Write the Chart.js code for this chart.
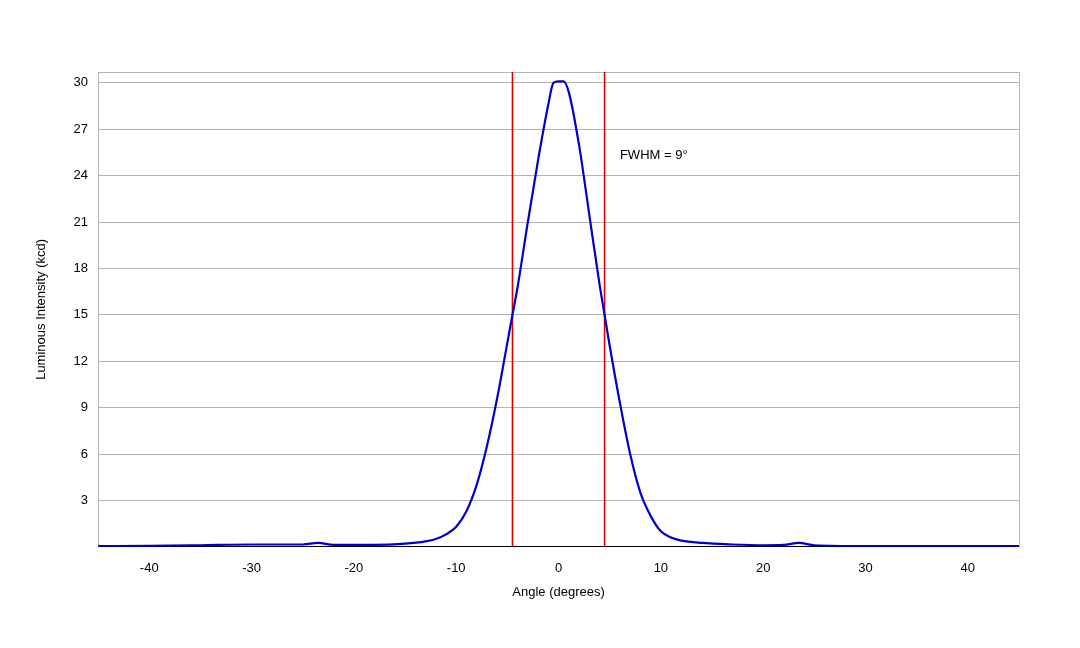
<!DOCTYPE html>
<html>
<head>
<script src="https://cdn.jsdelivr.net/npm/chart.js"></script>
<style>body{margin:0;background:#fff}</style>
</head>
<body>
<canvas id="myChart" width="1080" height="648"></canvas>
<script>
const angles = [-45,-40,-35,-30,-25,-23.5,-22,-20,-18,-15,-13,-12,-11,-10,-9,-8,-7,-6,-5,-4.5,-4,-3,-2,-1,-0.5,0,0.5,1,2,3,4,4.5,5,6,7,8,9,10,11,12,14,17,20,22,23.5,25,30,35,40,45];
const intensity = [0.05,0.06,0.1,0.15,0.15,0.25,0.12,0.12,0.12,0.2,0.35,0.5,0.8,1.3,2.3,4.0,6.5,9.6,13.2,15,16.8,21,25,28.6,30.0,30.1,30.1,29.4,26,21.5,17,15,13,9.3,6.0,3.5,2.0,1.0,0.6,0.4,0.25,0.15,0.1,0.12,0.25,0.1,0.05,0.05,0.05,0.05];
const fwhmLines = [-4.5, 4.5];
const yTicks = [3,6,9,12,15,18,21,24,27,30];
const xTicks = [-40,-30,-20,-10,0,10,20,30,40];
const yMax = 30.7;

const font = {family: 'Liberation Sans, Arial, sans-serif', size: 13};
Chart.defaults.color = '#000';

const labelPlugin = {
  id: 'fwhmLabel',
  afterDatasetsDraw(chart) {
    const ctx = chart.ctx;
    ctx.save();
    ctx.font = '13px Liberation Sans, Arial, sans-serif';
    ctx.fillStyle = '#000';
    ctx.textBaseline = 'middle';
    ctx.fillText('FWHM = 9°', chart.scales.x.getPixelForValue(6), chart.scales.y.getPixelForValue(25.3));
    ctx.restore();
  }
};

const datasets = [{
  data: angles.map((a, i) => ({x: a, y: intensity[i]})),
  borderColor: '#0000cc', borderWidth: 2.2, pointRadius: 0, cubicInterpolationMode: 'monotone'
}];
fwhmLines.forEach(v => datasets.push({
  data: [{x: v, y: 0}, {x: v, y: yMax}],
  borderColor: '#e00000', borderWidth: 1.6, pointRadius: 0
}));

new Chart(document.getElementById('myChart'), {
  type: 'line',
  data: {datasets: datasets},
  options: {
    responsive: false, animation: false, devicePixelRatio: 1,
    layout: {padding: {left: 30, right: 53, top: 64, bottom: 44}},
    plugins: {legend: {display: false}, tooltip: {enabled: false}},
    scales: {
      x: {
        type: 'linear', min: -45, max: 45,
        afterBuildTicks: s => { s.ticks = xTicks.map(v => ({value: v})); },
        grid: {display: false},
        border: {color: '#000'},
        ticks: {font: font, padding: 6},
        title: {display: true, text: 'Angle (degrees)', font: font, padding: {top: 2}}
      },
      y: {
        min: 0, max: yMax,
        afterBuildTicks: s => { s.ticks = yTicks.map(v => ({value: v})); },
        grid: {color: '#b3b3b3', drawTicks: false},
        border: {color: '#b3b3b3'},
        ticks: {font: font, padding: 10},
        title: {display: true, text: 'Luminous Intensity (kcd)', font: font, padding: {bottom: 14}}
      },
      x2: {type: 'linear', position: 'top', min: -45, max: 45, ticks: {display: false}, grid: {display: false}, border: {color: '#b3b3b3'}},
      y2: {position: 'right', min: 0, max: yMax, ticks: {display: false}, grid: {display: false}, border: {color: '#b3b3b3'}}
    }
  },
  plugins: [labelPlugin]
});
</script>
</body>
</html>
